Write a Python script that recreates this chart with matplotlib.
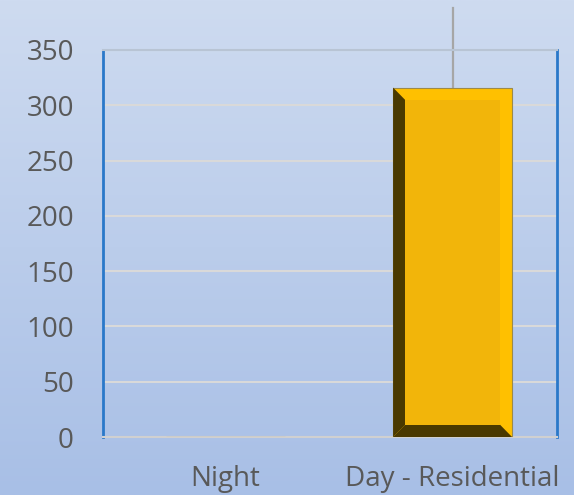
import numpy as np
import matplotlib
matplotlib.use("Agg")
import matplotlib.pyplot as plt
from matplotlib.patches import Polygon, Rectangle

# data
categories = ["Night", "Day - Residential"]
values = [0, 316]
err_upper = [0, 72]

plt.rcParams['font.family'] = ['Open Sans', 'DejaVu Sans']

fig = plt.figure(figsize=(5.74, 4.95), dpi=100)

# background gradient over the whole figure
bg = fig.add_axes([0, 0, 1, 1], zorder=-10)
top = np.array([206, 219, 240]) / 255
bottom = np.array([168, 191, 230]) / 255
t = np.linspace(0, 1, 256)[:, None]
grad = top * (1 - t)[:, :, None] + bottom * t[:, :, None]
bg.imshow(grad, aspect='auto', extent=[0, 1, 0, 1])
bg.axis('off')

ax = fig.add_axes([103 / 574, 1 - 437 / 495, 454 / 574, 387 / 495])
ax.patch.set_alpha(0)

x = np.arange(len(categories))
width = 0.524
bars = ax.bar(x, values, width, color='#ffc000', edgecolor='#9c8a4a',
              linewidth=0.8, zorder=3)

ax.set_xlim(-0.54, 1.46)
ax.set_ylim(0, 350)

# bevel look on each bar
for b in bars:
    h = b.get_height()
    if h <= 0:
        continue
    x0, x1 = b.get_x(), b.get_x() + b.get_width()
    y0, y1 = 0, h
    bx, by = 0.1 * b.get_width(), 11
    dark = '#4a3900'
    ax.add_patch(Polygon([(x0, y0), (x0 + bx, y0 + by), (x0 + bx, y1 - by), (x0, y1)],
                         closed=True, facecolor=dark, edgecolor='none', zorder=4))
    ax.add_patch(Polygon([(x0, y0), (x1, y0), (x1 - bx, y0 + by), (x0 + bx, y0 + by)],
                         closed=True, facecolor=dark, edgecolor='none', zorder=4))
    ax.add_patch(Rectangle((x0 + bx, y0 + by), x1 - x0 - 2 * bx, y1 - y0 - 2 * by,
                           facecolor='#f2b50a', edgecolor='none', zorder=4))

# upper error bar
for xi, v, e in zip(x, values, err_upper):
    if e > 0:
        ax.plot([xi, xi], [v, v + e], color='#a6a6a6', lw=1.6,
                zorder=2, clip_on=False)

ax.set_yticks(np.arange(0, 351, 50))
ax.yaxis.grid(True, color='#d9d9d9', lw=1.5, zorder=0)
ax.set_axisbelow(True)

for side in ['left', 'right']:
    ax.spines[side].set_color('#2a78c9')
    ax.spines[side].set_linewidth(2)
ax.spines['top'].set_color('#b8c4d4')
ax.spines['top'].set_linewidth(1.5)
ax.spines['bottom'].set_color('#d0d0d0')
ax.spines['bottom'].set_linewidth(1.5)

ax.set_xticks(x)
ax.set_xticklabels(categories)
ax.tick_params(axis='both', length=0, labelsize=20, colors='#595959')
ax.tick_params(axis='y', pad=21)
ax.tick_params(axis='x', pad=20)

fig.savefig("out.png", dpi=100)
